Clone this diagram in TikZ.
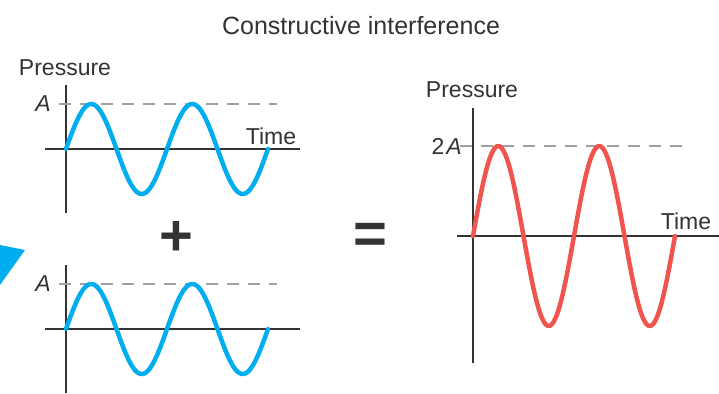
\documentclass[tikz,border=0pt]{standalone}
\usepackage{fontspec}
\setmainfont{Liberation Sans}
\usetikzlibrary{positioning}
\definecolor{inkcolor}{HTML}{333333}
\definecolor{wavecolor}{HTML}{00AEEF}
\definecolor{sumcolor}{HTML}{F0544F}
\definecolor{guidecolor}{HTML}{A0A0A0}
\tikzset{
  axis/.style={
    draw=inkcolor,
    line width=2.4pt
  },
  guide/.style={
    draw=guidecolor,
    line width=2pt,
    dash pattern=on 12pt off 9pt
  },
  wave/.style={
    draw=#1,
    line width=4.5pt,
    line cap=round,
    line join=round
  },
  label/.style={font=\fontsize{23}{27}\selectfont, text=inkcolor, inner sep=0pt},
  operator/.style={font=\fontsize{58}{60}\selectfont\bfseries, text=inkcolor, inner sep=0pt}
}

\begin{document}
\begin{tikzpicture}[x=1pt, y=-1pt]
  \path[use as bounding box] (0,0) rectangle (719,393);

  \node[label, font=\fontsize{25}{29}\selectfont] (title) at (361,26) {Constructive interference};

  % first wave
  \begin{scope}[shift={(66,149)}]
    \draw[axis] (0,-64) -- (0,64);
    \draw[axis] (-21,0) -- (234,0);
    \draw[guide] (-7,-45) -- (211,-45);
    \draw[wave=wavecolor] plot[domain=0:202, samples=121] (\x,{-45*sin(\x/101*360)});
    \node[label, anchor=east] (topamp) at (-15,-45) {\itshape A};
    \node[label] (toptime) at (205,-13) {Time};
    \node[label] (toppressure) at (-1,-81) {Pressure};
  \end{scope}

  % second wave
  \begin{scope}[shift={(66,329)}]
    \draw[axis] (0,-64) -- (0,64);
    \draw[axis] (-21,0) -- (234,0);
    \draw[guide] (-7,-45) -- (211,-45);
    \draw[wave=wavecolor] plot[domain=0:202, samples=121] (\x,{-45*sin(\x/101*360)});
    \node[label, anchor=east] (botamp) at (-15,-45) {\itshape A};
  \end{scope}

  % sum
  \begin{scope}[shift={(473,236)}]
    \draw[axis] (0,-128) -- (0,127);
    \draw[axis] (-16,0) -- (246,0);
    \draw[guide] (-13,-90) -- (215,-90);
    \draw[wave=sumcolor] plot[domain=0:202, samples=121] (\x,{-90*sin(\x/101*360)});
    \node[label, anchor=east] (sumamp) at (-11,-90) {2\kern2pt\itshape A};
    \node[label] (sumtime) at (213,-15) {Time};
    \node[label] (sumpressure) at (-1,-146) {Pressure};
  \end{scope}

  \node[operator] (plus) at (176,238) {+};
  \node[operator] (equals) at (370,238) {=};

  \fill[wavecolor] (0,245) -- (25,250) -- (0,285) -- cycle;
\end{tikzpicture}
\end{document}
